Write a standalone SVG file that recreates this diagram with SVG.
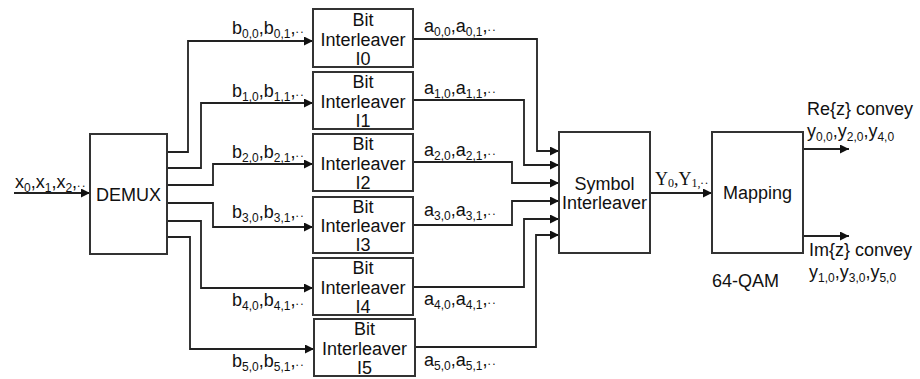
<svg xmlns="http://www.w3.org/2000/svg" width="920" height="379" viewBox="0 0 920 379">
  <style>
    .box { fill: #fff; stroke: #333; stroke-width: 2; }
    .t { font-family: "Liberation Sans", Arial, sans-serif; font-size: 18px; fill: #111; }
    .c { text-anchor: middle; }
    .s { font-size: 12px; }
    .d { font-size: 12px; letter-spacing: 1.5px; }
    .serif { font-family: "Liberation Serif", "Times New Roman", serif; font-size: 18px; fill: #111; }
    .wire { fill: none; stroke: #222; stroke-width: 1.8; marker-end: url(#arr); }
  </style>
  <defs>
    <marker id="arr" viewBox="0 0 10 10" refX="10" refY="5" markerWidth="10" markerHeight="9" markerUnits="userSpaceOnUse" orient="auto">
      <path d="M0,0 L10,5 L0,10 z" fill="#111"/>
    </marker>
  </defs>
  <rect width="920" height="379" fill="#fff"/>

  <g id="connectors">
    <path class="wire" d="M14,193 H90"/>
    <path class="wire" d="M167,152 H188 V41 H313"/>
    <path class="wire" d="M167,168 H201 V103 H313"/>
    <path class="wire" d="M167,185 H213 V164 H313"/>
    <path class="wire" d="M167,203 H213 V227 H313"/>
    <path class="wire" d="M167,221 H201 V288 H313"/>
    <path class="wire" d="M167,237 H190 V349 H314"/>
    <path class="wire" d="M413,39 H537 V151 H559"/>
    <path class="wire" d="M413,100 H524 V165 H559"/>
    <path class="wire" d="M413,162 H512 V183 H559"/>
    <path class="wire" d="M413,225 H512 V201 H559"/>
    <path class="wire" d="M413,287 H524 V219 H559"/>
    <path class="wire" d="M415,347 H536 V235 H559"/>
    <path class="wire" d="M650,193 H712"/>
    <path class="wire" d="M803,149 H849"/>
    <path class="wire" d="M803,236 H849"/>
  </g>

  <g id="demux">
    <rect class="box" x="90" y="134" width="77" height="120"/>
    <text class="t c" x="128.5" y="201">DEMUX</text>
  </g>

  <g id="bi0">
    <rect class="box" x="313" y="9" width="100" height="58"/>
    <text class="t c" x="363" y="26">Bit</text>
    <text class="t c" x="363" y="46">Interleaver</text>
    <text class="t c" x="363" y="65">I0</text>
  </g>
  <g id="bi1">
    <rect class="box" x="313" y="72" width="100" height="57"/>
    <text class="t c" x="363" y="88">Bit</text>
    <text class="t c" x="363" y="108">Interleaver</text>
    <text class="t c" x="363" y="127">I1</text>
  </g>
  <g id="bi2">
    <rect class="box" x="313" y="134" width="100" height="57"/>
    <text class="t c" x="363" y="150">Bit</text>
    <text class="t c" x="363" y="170">Interleaver</text>
    <text class="t c" x="363" y="189">I2</text>
  </g>
  <g id="bi3">
    <rect class="box" x="313" y="197" width="100" height="56"/>
    <text class="t c" x="363" y="213">Bit</text>
    <text class="t c" x="363" y="232">Interleaver</text>
    <text class="t c" x="363" y="251">I3</text>
  </g>
  <g id="bi4">
    <rect class="box" x="313" y="258" width="100" height="57"/>
    <text class="t c" x="363" y="274">Bit</text>
    <text class="t c" x="363" y="294">Interleaver</text>
    <text class="t c" x="363" y="313">I4</text>
  </g>
  <g id="bi5">
    <rect class="box" x="314" y="319" width="101" height="57"/>
    <text class="t c" x="364.5" y="335">Bit</text>
    <text class="t c" x="364.5" y="355">Interleaver</text>
    <text class="t c" x="364.5" y="374">I5</text>
  </g>

  <g id="symbol-interleaver">
    <rect class="box" x="559" y="132" width="91" height="121"/>
    <text class="t c" x="604.5" y="190">Symbol</text>
    <text class="t c" x="604.5" y="209">Interleaver</text>
  </g>

  <g id="mapping">
    <rect class="box" x="712" y="132" width="91" height="121"/>
    <text class="t c" x="757.5" y="199">Mapping</text>
    <text class="t" x="712" y="287">64-QAM</text>
  </g>

  <g id="labels">
    <text class="t" x="15" y="188">x<tspan class="s" dy="4">0</tspan><tspan dy="-4">,x</tspan><tspan class="s" dy="4">1</tspan><tspan dy="-4">,x</tspan><tspan class="s" dy="4">2</tspan><tspan dy="-4">,</tspan><tspan class="d" dy="-1">..</tspan></text>

    <text class="t" x="232" y="34">b<tspan class="s" dy="4">0,0</tspan><tspan dy="-4">,b</tspan><tspan class="s" dy="4">0,1</tspan><tspan dy="-4">,</tspan><tspan class="d" dy="-1">..</tspan></text>
    <text class="t" x="232" y="97">b<tspan class="s" dy="4">1,0</tspan><tspan dy="-4">,b</tspan><tspan class="s" dy="4">1,1</tspan><tspan dy="-4">,</tspan><tspan class="d" dy="-1">..</tspan></text>
    <text class="t" x="232" y="158">b<tspan class="s" dy="4">2,0</tspan><tspan dy="-4">,b</tspan><tspan class="s" dy="4">2,1</tspan><tspan dy="-4">,</tspan><tspan class="d" dy="-1">..</tspan></text>
    <text class="t" x="232" y="218">b<tspan class="s" dy="4">3,0</tspan><tspan dy="-4">,b</tspan><tspan class="s" dy="4">3,1</tspan><tspan dy="-4">,</tspan><tspan class="d" dy="-1">..</tspan></text>
    <text class="t" x="232" y="306">b<tspan class="s" dy="4">4,0</tspan><tspan dy="-4">,b</tspan><tspan class="s" dy="4">4,1</tspan><tspan dy="-4">,</tspan><tspan class="d" dy="-1">..</tspan></text>
    <text class="t" x="232" y="367">b<tspan class="s" dy="4">5,0</tspan><tspan dy="-4">,b</tspan><tspan class="s" dy="4">5,1</tspan><tspan dy="-4">,</tspan><tspan class="d" dy="-1">..</tspan></text>

    <text class="t" x="424" y="32">a<tspan class="s" dy="4">0,0</tspan><tspan dy="-4">,a</tspan><tspan class="s" dy="4">0,1</tspan><tspan dy="-4">,</tspan><tspan class="d" dy="-1">..</tspan></text>
    <text class="t" x="424" y="94">a<tspan class="s" dy="4">1,0</tspan><tspan dy="-4">,a</tspan><tspan class="s" dy="4">1,1</tspan><tspan dy="-4">,</tspan><tspan class="d" dy="-1">..</tspan></text>
    <text class="t" x="424" y="156">a<tspan class="s" dy="4">2,0</tspan><tspan dy="-4">,a</tspan><tspan class="s" dy="4">2,1</tspan><tspan dy="-4">,</tspan><tspan class="d" dy="-1">..</tspan></text>
    <text class="t" x="424" y="216">a<tspan class="s" dy="4">3,0</tspan><tspan dy="-4">,a</tspan><tspan class="s" dy="4">3,1</tspan><tspan dy="-4">,</tspan><tspan class="d" dy="-1">..</tspan></text>
    <text class="t" x="424" y="305">a<tspan class="s" dy="4">4,0</tspan><tspan dy="-4">,a</tspan><tspan class="s" dy="4">4,1</tspan><tspan dy="-4">,</tspan><tspan class="d" dy="-1">..</tspan></text>
    <text class="t" x="424" y="366">a<tspan class="s" dy="4">5,0</tspan><tspan dy="-4">,a</tspan><tspan class="s" dy="4">5,1</tspan><tspan dy="-4">,</tspan><tspan class="d" dy="-1">..</tspan></text>

    <text class="serif" x="655" y="185">Y<tspan class="s" dy="2">0</tspan><tspan dy="-2">,Y</tspan><tspan class="s" dy="2">1</tspan><tspan class="s">,</tspan><tspan class="d" dy="-3">..</tspan></text>

    <text class="t" x="807" y="115">Re{z} convey</text>
    <text class="t" x="807" y="137">y<tspan class="s" dy="4">0,0</tspan><tspan dy="-4">,y</tspan><tspan class="s" dy="4">2,0</tspan><tspan dy="-4">,y</tspan><tspan class="s" dy="4">4,0</tspan></text>
    <text class="t" x="809" y="256">Im{z} convey</text>
    <text class="t" x="809" y="278">y<tspan class="s" dy="4">1,0</tspan><tspan dy="-4">,y</tspan><tspan class="s" dy="4">3,0</tspan><tspan dy="-4">,y</tspan><tspan class="s" dy="4">5,0</tspan></text>
  </g>
</svg>
